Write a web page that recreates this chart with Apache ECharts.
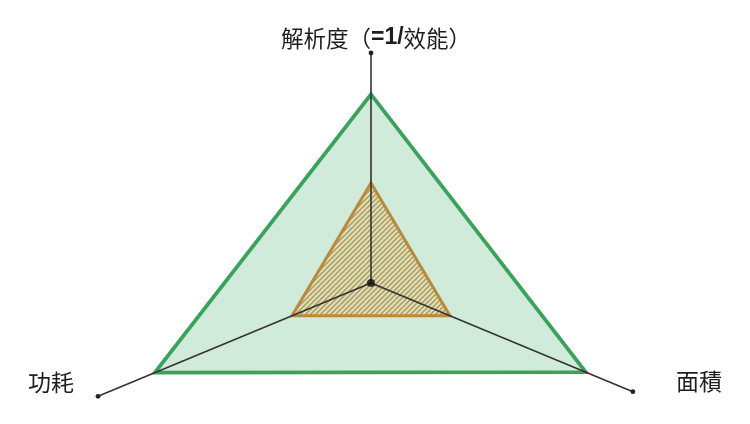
<!DOCTYPE html>
<html>
<head>
<meta charset="utf-8">
<script src="https://cdn.jsdelivr.net/npm/echarts@6/dist/echarts.min.js"></script>
<style>
  html, body { margin: 0; padding: 0; background: #fff; }
  #chart { width: 750px; height: 424px; }
</style>
</head>
<body>
<div id="chart"></div>
<script>
// three axes of the triangle chart
const indicators = ['解析度（=1/效能）', '面積', '功耗'];
const axisAngles = [90, -30, 210];      // direction of each axis, degrees
const axisMax = [10, 9.45, 9.85];
const outerValues = [8.2, 7.75, 7.8];   // green triangle
const innerValues = [4.35, 2.85, 2.85]; // hatched triangle

const FONT = '"Noto Sans CJK TC", "Noto Sans CJK SC", sans-serif';

// value along an axis -> point in the hidden cartesian grid
function toXY(v, i) {
  const a = axisAngles[i] * Math.PI / 180;
  return [v * Math.cos(a), v * Math.sin(a)];
}

// diagonal hatch for the inner triangle
const hatch = document.createElement('canvas');
hatch.width = 5; hatch.height = 5;
(function () {
  const c = hatch.getContext('2d');
  c.fillStyle = '#e0e5c2';
  c.fillRect(0, 0, 5, 5);
  c.strokeStyle = '#b3a066';
  c.lineWidth = 1.7;
  c.beginPath();
  c.moveTo(-1, 6); c.lineTo(6, -1);
  c.moveTo(-1, 1); c.lineTo(1, -1);
  c.moveTo(4, 6); c.lineTo(6, 4);
  c.stroke();
})();

function polygonSeries(values, style, z) {
  return {
    type: 'custom',
    z: z,
    silent: true,
    data: [values],
    renderItem: function (params, api) {
      const pts = values.map((v, i) => api.coord(toXY(v, i)));
      return { type: 'polygon', shape: { points: pts }, style: style };
    }
  };
}

const chart = echarts.init(document.getElementById('chart'));

chart.setOption({
  animation: false,
  grid: { left: 19, right: 27, top: 18.5, bottom: 3 },
  xAxis: { type: 'value', min: -11, max: 11, show: false },
  yAxis: { type: 'value', min: -6, max: 11.5, show: false },
  series: [
    polygonSeries(outerValues, { fill: '#d1ebdb', stroke: '#3aa35b', lineWidth: 3.8, lineJoin: 'miter' }, 1),
    polygonSeries(innerValues, { fill: { image: hatch, repeat: 'repeat' }, stroke: '#b98a3c', lineWidth: 3, lineJoin: 'miter' }, 2),
    {
      // axis lines with end dots
      type: 'custom',
      z: 3,
      silent: true,
      data: axisMax.map((m, i) => [m, i]),
      renderItem: function (params, api) {
        const i = api.value(1);
        const c0 = api.coord([0, 0]);
        const c1 = api.coord(toXY(api.value(0), i));
        return {
          type: 'group',
          children: [
            { type: 'line', shape: { x1: c0[0], y1: c0[1], x2: c1[0], y2: c1[1] },
              style: { stroke: '#333', lineWidth: 1.6 } },
            { type: 'circle', shape: { cx: c1[0], cy: c1[1], r: 2.4 }, style: { fill: '#222' } }
          ]
        };
      }
    },
    {
      type: 'scatter',
      z: 4,
      silent: true,
      symbolSize: 8,
      itemStyle: { color: '#111' },
      data: [[0, 0]]
    }
  ],
  graphic: [
    { type: 'text', x: 376, y: 38,
      style: { text: '解析度（{b|=1/}效能）', align: 'center', verticalAlign: 'middle',
        fontSize: 22.5, fontFamily: FONT, fill: '#1e1e1e',
        rich: { b: { fontSize: 23, fontFamily: 'Liberation Sans, Arial, sans-serif', fontWeight: 'bold', fill: '#1e1e1e' } } } },
    { type: 'text', x: 699, y: 381,
      style: { text: indicators[1], align: 'center', verticalAlign: 'middle', fontSize: 23, fontFamily: FONT, fill: '#1e1e1e' } },
    { type: 'text', x: 51, y: 382,
      style: { text: indicators[2], align: 'center', verticalAlign: 'middle', fontSize: 23, fontFamily: FONT, fill: '#1e1e1e' } }
  ]
});
</script>
</body>
</html>
